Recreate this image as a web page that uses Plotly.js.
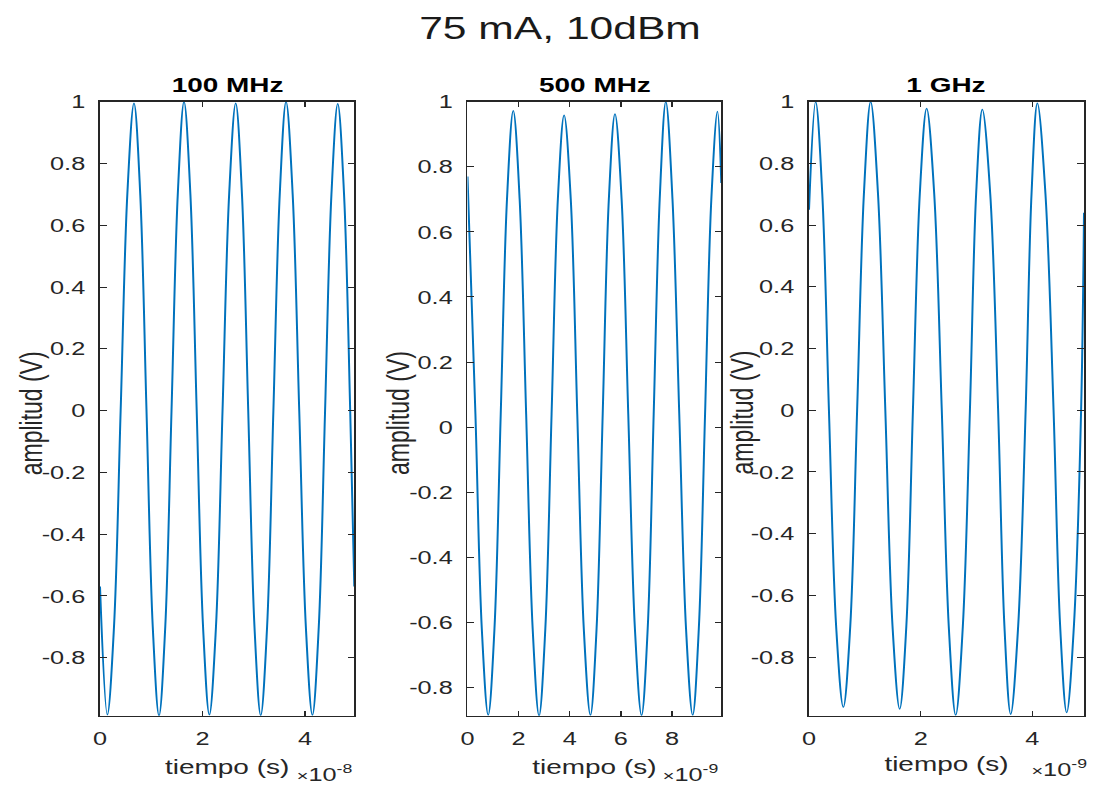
<!DOCTYPE html>
<html>
<head>
<meta charset="utf-8">
<script src="https://cdn.plot.ly/plotly-3.0.1.min.js"></script>
<style>
  html, body { margin: 0; padding: 0; background: #ffffff; overflow: hidden; width: 1094px; height: 787px; }
  #plot { width: 822px; height: 787px; transform: scaleX(1.3309); transform-origin: 0 0; }
</style>
</head>
<body>
<div id="plot"></div>
<script>
// ---------- Data ----------
const mainTitle = '75 mA, 10dBm';
const panelTitles = ['100 MHz', '500 MHz', '1 GHz'];
const xLabel = 'tiempo (s)';
const yLabel = 'amplitud (V)';
const xExponents = ['-8', '-9', '-9'];

// 100 MHz: time in units of 1e-8 s, amplitude in V
const t100MHz = [0, 0.143, 0.273, 0.403, 0.533, 0.663, 0.785, 0.907, 1.029, 1.151, 1.273, 1.395, 1.517, 1.639,
  1.763, 1.886, 2.010, 2.133, 2.262, 2.390, 2.519, 2.647, 2.769, 2.891, 3.013, 3.135, 3.259, 3.382, 3.506, 3.629,
  3.758, 3.886, 4.015, 4.143, 4.267, 4.390, 4.514, 4.637, 4.760, 4.880, 4.960];
const v100MHz = [-0.57, -0.985, -0.70, 0.0, 0.70, 0.995, 0.70, 0.0, -0.70, -0.988, -0.70, 0.0, 0.70, 1.0,
  0.70, 0.0, -0.70, -0.985, -0.70, 0.0, 0.70, 0.995, 0.70, 0.0, -0.70, -0.987, -0.70, 0.0, 0.70, 1.0,
  0.70, 0.0, -0.70, -0.986, -0.70, 0.0, 0.70, 0.993, 0.70, 0.0, -0.57];

// 500 MHz: time in units of 1e-9 s
const t500MHz = [0, 0.31, 0.56, 0.81, 1.055, 1.30, 1.545, 1.79, 2.04, 2.295, 2.55, 2.80, 3.045, 3.29, 3.535, 3.78,
  4.04, 4.295, 4.55, 4.81, 5.05, 5.29, 5.53, 5.77, 6.03, 6.29, 6.55, 6.81, 7.05, 7.285, 7.52, 7.76,
  8.02, 8.285, 8.55, 8.81, 9.05, 9.295, 9.54, 9.78, 9.93];
const v500MHz = [0.77, 0.04, -0.62, -0.885, -0.62, 0.04, 0.70, 0.972, 0.70, 0.04, -0.62, -0.887, -0.62, 0.04, 0.70, 0.958,
  0.70, 0.04, -0.62, -0.885, -0.62, 0.04, 0.70, 0.962, 0.70, 0.04, -0.62, -0.886, -0.62, 0.04, 0.70, 1.0,
  0.70, 0.04, -0.62, -0.885, -0.62, 0.04, 0.70, 0.97, 0.75];

// 1 GHz: time in units of 1e-9 s
const t1GHz = [0, 0.119, 0.238, 0.357, 0.486, 0.615, 0.739, 0.862, 0.983, 1.104, 1.236, 1.367, 1.496, 1.624,
  1.743, 1.861, 1.984, 2.107, 2.243, 2.378, 2.503, 2.627, 2.755, 2.882, 2.993, 3.104, 3.246, 3.387, 3.500, 3.612,
  3.746, 3.880, 3.985, 4.090, 4.235, 4.380, 4.498, 4.615, 4.744, 4.873, 4.925];
const v1GHz = [0.65, 1.0, 0.70, 0.0, -0.70, -0.962, -0.70, 0.0, 0.70, 1.0, 0.70, 0.0, -0.70, -0.968,
  -0.70, 0.0, 0.70, 0.978, 0.70, 0.0, -0.70, -0.988, -0.70, 0.0, 0.70, 0.975, 0.70, 0.0, -0.70, -0.985,
  -0.70, 0.0, 0.70, 0.995, 0.70, 0.0, -0.70, -0.98, -0.70, 0.0, 0.64];

// Tick values / labels
const yTickVals = [-0.8, -0.6, -0.4, -0.2, 0, 0.2, 0.4, 0.6, 0.8, 1];
const yTickText = ['-0.8', '-0.6', '-0.4', '-0.2', '0', '0.2', '0.4', '0.6', '0.8', '1'];
const xTickVals100 = [0, 2, 4];
const xTickVals500 = [0, 2, 4, 6, 8];
const xTickVals1G = [0, 2, 4];

// ---------- Styling ----------
const FONT = 'Liberation Sans, Arial, Helvetica, sans-serif';
const AXCOL = '#262626';
const LINECOL = '#0072BD';
const W = 1094, H = 787;

const xDomains = [[100 / W, 354.3 / W], [467.5 / W, 721.3 / W], [809 / W, 1084 / W]];
const yDomain = [1 - 715.7 / H, 1 - 101.7 / H];

function xAxis(domain, range, tickvals, anchor, standoff) {
  return {
    domain: domain, range: range, anchor: anchor,
    tickmode: 'array', tickvals: tickvals, ticktext: tickvals.map(String),
    ticks: 'inside', ticklen: 5, tickwidth: 1, tickcolor: AXCOL,
    showline: true, linecolor: AXCOL, linewidth: 1.3, mirror: 'ticks',
    showgrid: false, zeroline: false,
    ticklabelstandoff: 5,
    tickfont: { family: FONT, size: 19, color: AXCOL },
    title: { text: xLabel, font: { family: FONT, size: 21, color: AXCOL }, standoff: standoff }
  };
}
function yAxis(range, anchor) {
  return {
    domain: yDomain, range: range, anchor: anchor,
    tickmode: 'array', tickvals: yTickVals, ticktext: yTickText,
    ticks: 'inside', ticklen: 5, tickwidth: 1, tickcolor: AXCOL,
    showline: true, linecolor: AXCOL, linewidth: 1.3, mirror: 'ticks',
    showgrid: false, zeroline: false,
    ticklabelstandoff: 6,
    tickfont: { family: FONT, size: 19, color: AXCOL }
  };
}

const lineStyle = { color: LINECOL, width: 1.5, shape: 'spline', smoothing: 1 };
const traces = [
  { x: t100MHz, y: v100MHz, xaxis: 'x', yaxis: 'y', type: 'scatter', mode: 'lines', line: lineStyle, name: panelTitles[0] },
  { x: t500MHz, y: v500MHz, xaxis: 'x2', yaxis: 'y2', type: 'scatter', mode: 'lines', line: lineStyle, name: panelTitles[1] },
  { x: t1GHz, y: v1GHz, xaxis: 'x3', yaxis: 'y3', type: 'scatter', mode: 'lines', line: lineStyle, name: panelTitles[2] }
];

const subTitleY = 1 - 84 / H;
const annotations = [];
panelTitles.forEach((t, i) => {
  annotations.push({
    xref: 'paper', yref: 'paper', x: (xDomains[i][0] + xDomains[i][1]) / 2, y: subTitleY,
    xanchor: 'center', yanchor: 'middle', showarrow: false,
    text: '<b>' + t + '</b>', font: { family: FONT, size: 21, color: '#000000' }
  });
});
// y-axis titles (rotated), placed like the reference
const yLabelX = [31 / W, 398 / W, 742 / W];
yLabelX.forEach((x) => {
  annotations.push({
    xref: 'paper', yref: 'paper', x: x, y: 1 - 413 / H,
    xanchor: 'center', yanchor: 'middle', showarrow: false, textangle: -90,
    text: yLabel, font: { family: FONT, size: 23, color: AXCOL }
  });
});
const expRight = [356 / W, 721 / W, 1090 / W];
const expYs = [1 - 773 / H, 1 - 773 / H, 1 - 768 / H];
xExponents.forEach((e, i) => {
  annotations.push({
    xref: 'paper', yref: 'paper', x: expRight[i], y: expYs[i],
    xanchor: 'right', yanchor: 'middle', showarrow: false,
    text: '<span style="font-size:15px">×</span>10<sup>' + e + '</sup>',
    font: { family: FONT, size: 19, color: AXCOL }
  });
});

const layout = {
  width: 822, height: 787,
  margin: { l: 0, r: 0, t: 0, b: 0 },
  paper_bgcolor: '#ffffff', plot_bgcolor: '#ffffff',
  showlegend: false,
  title: { text: mainTitle, x: 560 / W, y: 1 - 28 / H, xanchor: 'center', yanchor: 'middle',
           font: { family: FONT, size: 32, color: '#1a1a1a' } },
  xaxis: xAxis(xDomains[0], [0, 4.96], xTickVals100, 'y', 11),
  yaxis: yAxis([-0.988, 1], 'x'),
  xaxis2: xAxis(xDomains[1], [0, 9.93], xTickVals500, 'y2', 11),
  yaxis2: yAxis([-0.887, 1], 'x2'),
  xaxis3: xAxis(xDomains[2], [0, 4.925], xTickVals1G, 'y3', 8),
  yaxis3: yAxis([-0.99, 1], 'x3'),
  annotations: annotations
};

Plotly.newPlot('plot', traces, layout, { staticPlot: true, displayModeBar: false });
</script>
</body>
</html>
